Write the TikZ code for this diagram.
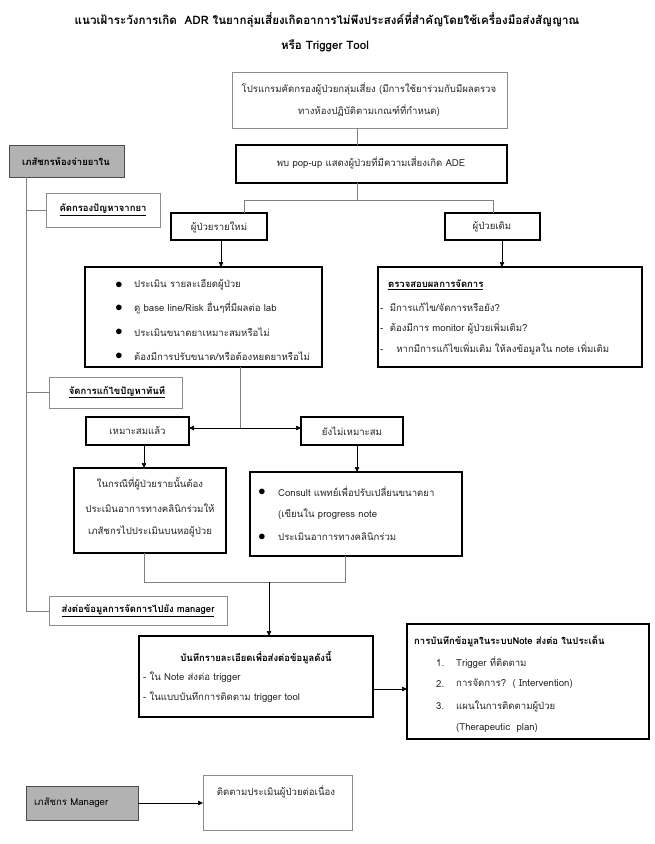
\documentclass[tikz,border=0pt]{standalone}
\usepackage{fontspec}
\setmainfont[Script=Thai]{Loma}
\usetikzlibrary{arrows.meta}
\newcommand\mkbox[6]{%
 \pgfmathsetmacro\bxcx{(#3+#5)/2}\pgfmathsetmacro\bxcy{(#4+#6)/2}%
 \pgfmathsetmacro\bxw{#5-#3}\pgfmathsetmacro\bxh{#6-#4}%
 \node[#2,minimum width=\bxw pt,minimum height=\bxh pt] (#1) at (\bxcx,\bxcy) {};}
\tikzset{
 bx/.style={rectangle,inner sep=0pt,outer sep=0pt},
 blk/.style={bx,draw=black,line width=1.1pt,fill=white},
 gry/.style={bx,draw=black!45,line width=0.8pt,fill=white},
 shd/.style={bx,draw=black!70,line width=0.9pt,fill=black!30},
 conn/.style={draw=black!50,line width=0.8pt},
 arr/.style={draw=black,line width=0.6pt,-{Triangle[length=5pt,width=4.5pt]}},
 txt/.style={inner sep=0pt,font=\fontsize{9.6}{12}\selectfont,text=black!85},
 dot/.style={inner sep=0pt,font=\fontsize{14}{14}\selectfont,text=black},
 ttl/.style={inner sep=0pt,font=\fontsize{11.6}{13}\selectfont\bfseries},
 bld/.style={txt,font=\fontsize{9.5}{11}\selectfont\bfseries,text=black},
}
\begin{document}
\begin{tikzpicture}[x=1pt,y=-1pt]
\useasboundingbox (0,0) rectangle (655,844);
% title
\node[ttl] (title1) at (327,20) {แนวเฝ้าระวังการเกิด\ \ ADR ในยากลุ่มเสี่ยงเกิดอาการไม่พึงประสงค์ที่สำคัญโดยใช้เครื่องมือส่งสัญญาณ};
\node[ttl] (title2) at (325,46) {หรือ Trigger Tool};
% boxes
\mkbox{b1}{gry}{232}{72}{507}{128}
\mkbox{b2}{blk}{236}{145}{507}{183}
\mkbox{newp}{blk}{171}{213}{267}{240}
\mkbox{oldp}{blk}{445}{213}{540}{240}
\mkbox{bul}{blk}{85}{267}{322}{367}
\mkbox{chk}{blk}{378}{267}{642}{367}
\mkbox{pharm}{shd}{9}{145}{124}{177}
\mkbox{scr}{gry}{46}{193}{160}{227}
\mkbox{mng}{gry}{49}{377}{182}{408}
\mkbox{snd}{gry}{49}{596}{227}{625}
\mkbox{ok}{blk}{86}{417}{189}{445}
\mkbox{nok}{blk}{301}{417}{403}{445}
\mkbox{lbox}{blk}{74}{468}{226}{553}
\mkbox{rbox}{blk}{250}{472}{462}{556}
\mkbox{rec}{blk}{139}{636}{373}{717}
\mkbox{note}{blk}{407}{624}{649}{739}
\mkbox{mgr}{shd}{26}{786}{138}{820}
\mkbox{fol}{gry}{203}{775}{352}{830}
% helper coordinates
\coordinate (x357) at (357,0);
\coordinate (j1) at (357,200);
\coordinate (jl) at (244,200);
\coordinate (jr) at (493,200);
\coordinate (x221) at (221,0);
\coordinate (x502) at (502,0);
\coordinate (x26) at (26,0);
\coordinate (lv) at (26,611);
\coordinate (j2) at (240,428);
\coordinate (x144) at (144,0);
\coordinate (x357b) at (357,0);
\coordinate (m1) at (144,582);
\coordinate (m2) at (345,582);
\coordinate (m3) at (269,582);
\coordinate (y689) at (0,689);
% connectors
\draw[conn] (b1.south -| x357) -- (b2.north -| x357);
\draw[conn] (b2.south -| j1) -- (j1);
\draw[conn] (jl) -- (jr);
\draw[conn] (jl) -- (jl |- newp.north);
\draw[conn] (jr) -- (jr |- oldp.north);
\draw[arr] (newp.south -| x221) -- (bul.north -| x221);
\draw[arr] (oldp.south -| x502) -- (chk.north -| x502);
\draw[conn] (pharm.south -| x26) -- (lv) -- (lv -| snd.west);
\draw[conn] (scr.west -| x26) -- (scr.west);
\draw[conn] (mng.west -| x26) -- (mng.west);
\draw[conn] (bul.south -| j2) -- (j2);
\draw[arr] (j2) -- (j2 -| ok.east);
\draw[arr] (j2) -- (j2 -| nok.west);
\draw[arr] (ok.south -| x144) -- (lbox.north -| x144);
\draw[arr] (nok.south -| x357b) -- (rbox.north -| x357b);
\draw[conn] (lbox.south -| m1) -- (m1) -- (m2) -- (rbox.south -| m2);
\draw[arr] (m3) -- (rec.north -| m3);
\draw[arr] (rec.east |- y689) -- (note.west |- y689);
\draw[arr] (mgr.east) -- (fol.west |- mgr.east);
% texts
\node[txt] (t1a) at (369,89) {โปรแกรมคัดกรองผู้ป่วยกลุ่มเสี่ยง (มีการใช้ยาร่วมกับมีผลตรวจ};
\node[txt] (t1b) at (369,111) {ทางห้องปฏิบัติตามเกณฑ์ที่กำหนด)};
\node[txt] (t2) at (371,163) {พบ pop-up แสดงผู้ป่วยที่มีความเสี่ยงเกิด ADE};
\node[txt] (tnew) at (219,227) {ผู้ป่วยรายใหม่};
\node[txt] (told) at (492,227) {ผู้ป่วยเดิม};
\node[bld] (tph) at (66,162) {เภสัชกรห้องจ่ายยาใน};
\node[bld] (tscr) at (103,210) {\underline{คัดกรองปัญหาจากยา}};
\node[bld] (tmng) at (117,392) {\underline{จัดการแก้ไขปัญหาทันที}};
\node[bld] (tsnd) at (138,611) {\underline{ส่งต่อข้อมูลการจัดการไปยัง manager}};
% bullet box
\foreach \yy/\tt [count=\i] in {285/{ประเมิน รายละเอียดผู้ป่วย},308/{ดู base line/Risk อื่นๆที่มีผลต่อ lab},332/{ประเมินขนาดยาเหมาะสมหรือไม่},356/{ต้องมีการปรับขนาด/หรือต้องหยดยาหรือไม่}}{
 \node[dot] (bb\i) at (119,\yy) {$\bullet$};
 \node[txt,anchor=west] (bt\i) at (134,\yy) {\tt};
}
% check box
\node[bld,anchor=west] (ch0) at (388,285) {\underline{ตรวจสอบผลการจัดการ}};
\node[txt,anchor=west] (ch1) at (380,307) {-\ \ มีการแก้ไข/จัดการหรือยัง?};
\node[txt,anchor=west] (ch2) at (380,328) {-\ \ ต้องมีการ monitor ผู้ป่วยเพิ่มเติม?};
\node[txt,anchor=west] (ch3) at (380,349) {-\ \ \ \ หากมีการแก้ไขเพิ่มเติม ให้ลงข้อมูลใน note เพิ่มเติม};
% ok / not ok
\node[txt] (tok) at (137.5,431) {เหมาะสมแล้ว};
\node[txt] (tnok) at (352,431) {ยังไม่เหมาะสม};
\node[txt] (l1) at (150,484) {ในกรณีที่ผู้ป่วยรายนั้นต้อง};
\node[txt] (l2) at (150,508) {ประเมินอาการทางคลินิกร่วมให้};
\node[txt] (l3) at (150,531) {เภสัชกรไปประเมินบนหอผู้ป่วย};
\node[dot] (rb1) at (262,492) {$\bullet$};
\node[txt,anchor=west] (r1) at (278,492) {Consult แพทย์เพื่อปรับเปลี่ยนขนาดยา};
\node[txt,anchor=west] (r2) at (278,514) {(เขียนใน progress note};
\node[dot] (rb3) at (262,537) {$\bullet$};
\node[txt,anchor=west] (r3) at (278,537) {ประเมินอาการทางคลินิกร่วม};
% record box
\node[bld] (rc0) at (256,658) {บันทึกรายละเอียดเพื่อส่งต่อข้อมูลดังนี้};
\node[txt,anchor=west] (rc1) at (143,677) {- ใน Note ส่งต่อ trigger};
\node[txt,anchor=west] (rc2) at (143,697) {- ในแบบบันทึกการติดตาม trigger tool};
% note box
\node[bld,anchor=west] (n0) at (414,641) {การบันทึกข้อมูลในระบบNote ส่งต่อ ในประเด็น};
\node[txt,anchor=west] (n1a) at (436,663) {1.};
\node[txt,anchor=west] (n1) at (456,663) {Trigger ที่ติดตาม};
\node[txt,anchor=west] (n2a) at (436,684) {2.};
\node[txt,anchor=west] (n2) at (456,684) {การจัดการ?\ \ ( Intervention)};
\node[txt,anchor=west] (n3a) at (436,706) {3.};
\node[txt,anchor=west] (n3) at (456,706) {แผนในการติดตามผู้ป่วย};
\node[txt,anchor=west] (n4) at (456,728) {(Therapeutic\ \ plan)};
% manager
\node[txt,anchor=west,text=black] (tmgr) at (34,803) {เภสัชกร Manager};
\node[txt] (tfol) at (276,792) {ติดตามประเมินผู้ป่วยต่อเนื่อง};
\end{tikzpicture}
\end{document}
